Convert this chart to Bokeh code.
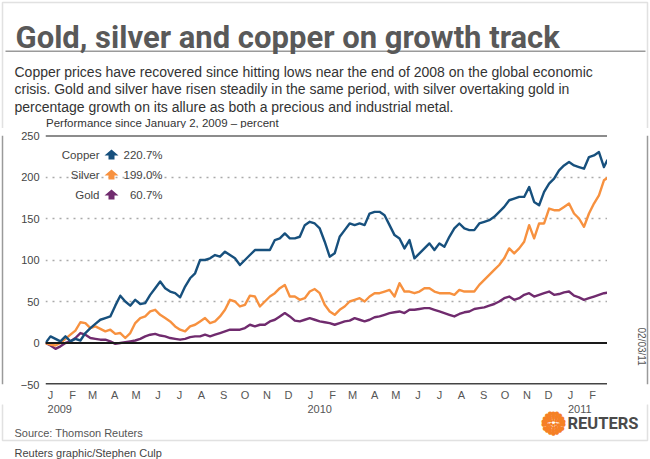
import math
import numpy as np
import pandas as pd
from bokeh.plotting import figure
from bokeh.layouts import column, row
from bokeh.models import (FixedTicker, Span, Label, LabelSet, BoxAnnotation,
                          PolyAnnotation, ColumnDataSource, Range1d)
from bokeh.core.properties import value
from bokeh.embed import file_html
from bokeh.resources import INLINE

# ---------------- data (weekly readings, percent change since Jan 2, 2009) -------------
dates = pd.date_range("2009-01-02", periods=113, freq="7D").append(pd.DatetimeIndex(["2011-03-02"]))

copper = [0, 8, 5, 2, 8, 2, 5, 3, 12, 18, 23, 28, 30, 32, 45, 57, 50, 45, 52, 47,
          48, 58, 66, 74, 66, 62, 60, 55, 68, 78, 84, 100, 100, 102, 106, 104, 110, 106, 102, 94,
          100, 106, 112, 112, 112, 112, 124, 126, 132, 126, 126, 128, 142, 146, 144, 138, 122, 104, 108, 128,
          136, 144, 142, 144, 142, 156, 158, 158, 154, 142, 130, 126, 114, 124, 102, 108, 114, 120, 112, 120,
          116, 128, 138, 144, 138, 136, 136, 144, 146, 148, 152, 158, 164, 172, 174, 176, 176, 188, 170, 166,
          182, 192, 198, 208, 214, 218, 214, 212, 210, 224, 226, 230, 212, 220.7]

silver = [0, -2, -3, 0, 5, 10, 15, 25, 24, 18, 20, 17, 14, 16, 11, 12, 6, 12, 24, 30,
          32, 38, 40, 34, 30, 26, 20, 16, 14, 20, 22, 26, 30, 24, 26, 32, 40, 52, 50, 44,
          46, 57, 56, 44, 50, 56, 60, 66, 70, 56, 56, 52, 54, 62, 65, 60, 46, 38, 34, 40,
          44, 50, 52, 54, 50, 56, 60, 60, 62, 64, 56, 72, 62, 62, 60, 62, 66, 66, 62, 60,
          60, 60, 58, 64, 62, 62, 62, 70, 76, 82, 88, 94, 102, 114, 108, 114, 122, 142, 126, 144,
          144, 162, 160, 160, 164, 168, 156, 150, 140, 156, 168, 178, 196, 199.0]

gold = [0, -3, -7, -4, 0, 2, 6, 12, 10, 6, 5, 4, 4, 2, -1, 0, 1, 2, 3, 5,
        8, 10, 11, 9, 8, 6, 5, 4, 5, 7, 8, 8, 10, 8, 10, 12, 14, 16, 16, 16,
        18, 22, 20, 22, 22, 26, 28, 32, 36, 32, 27, 26, 28, 30, 28, 26, 25, 24, 22, 24,
        26, 27, 30, 28, 26, 28, 31, 32, 34, 36, 37, 38, 36, 40, 40, 41, 42, 42, 40, 38,
        36, 34, 32, 35, 37, 38, 41, 42, 43, 45, 47, 50, 54, 56, 52, 54, 58, 60, 56, 58,
        60, 62, 58, 59, 61, 62, 57, 55, 52, 54, 56, 58, 60, 60.7]

series_names = ["Copper", "Silver", "Gold"]
series_last = ["220.7%", "199.0%", "60.7%"]
series_colors = ["#17507d", "#f7913f", "#702b6e"]

month_letters = ["J", "F", "M", "A", "M", "J", "J", "A", "S", "O", "N", "D",
                 "J", "F", "M", "A", "M", "J", "J", "A", "S", "O", "N", "D", "J", "F"]
month_starts = pd.date_range("2009-01-01", periods=26, freq="MS")
year_labels = ["2009", "2010", "2011"]
year_starts = pd.DatetimeIndex(["2009-01-01", "2010-01-01", "2011-01-01"])
y_ticks = [-50, 0, 50, 100, 150, 200, 250]
y_dotted = [50, 100, 150, 200]

origin = pd.Timestamp("2009-01-01")
x = np.asarray((dates - origin).days, dtype=float)

# ---------------- geometry (canvas px) -------------
W, H = 650, 459
FL, FR, FT, FB = 45, 607, 135, 384        # plot frame
HEAD = 128                                # header height
MAIN_B = 404                              # bottom of main figure
LSTRIP = 10
X0, X1 = 1, 790                           # days since 2009-01-01 (Jan 2, 2009 .. Mar 2, 2011)
PPD = (FR - FL) / (X1 - X0)
BORDER = "#9a9a9a"


def blank(w, h, xr, yr):
    f = figure(width=w, height=h, output_backend="svg", toolbar_location=None,
               x_range=xr, y_range=yr, x_axis_type=None, y_axis_type=None,
               min_border=0, background_fill_color="white", border_fill_color="white")
    f.outline_line_color = None
    f.grid.visible = False
    return f


def txt(f, x_, y_, text, size, color="#333333", font="Liberation Sans", align="left",
        baseline="middle", style="normal", angle=0.0, units="data"):
    f.add_layout(Label(x=x_, y=y_, x_units=units, y_units=units, text=text,
                       text_font=font, text_font_size=size, text_color=color, text_align=align,
                       text_baseline=baseline, text_font_style=style, angle=angle))


# ---------------- header -------------
head = blank(W, HEAD, Range1d(0, W), Range1d(HEAD, 0))
head.add_layout(BoxAnnotation(left=2, right=647, top=2, bottom=HEAD + 20, fill_alpha=0,
                              line_color=BORDER, line_width=1.5))
head.add_layout(BoxAnnotation(left=5, right=645, top=50, bottom=51.5, fill_color=BORDER,
                              fill_alpha=1, line_color=None))
txt(head, 15, 37, "Gold, silver and copper on growth track", "31px", "#595959", "Roboto",
    baseline="alphabetic", style="bold")
sub = ["Copper prices have recovered since hitting lows near the end of 2008 on the global economic",
       "crisis. Gold and silver have risen steadily in the same period, with silver overtaking gold in",
       "percentage growth on its allure as both a precious and industrial metal."]
for i, s in enumerate(sub):
    txt(head, 14, 71 + 17.5 * i, s, "14px", "#333333", baseline="alphabetic")
txt(head, 45.5, 122, "Performance since January 2, 2009 \u2013 percent", "11.5px", "#333333")

# ---------------- main chart -------------
MH = MAIN_B - HEAD
p = figure(width=FR - LSTRIP, height=MH, output_backend="svg", toolbar_location=None,
           x_range=Range1d(X0, X1), y_range=Range1d(-50, 250),
           min_border_left=FL - LSTRIP, min_border_right=0, min_border_top=FT - HEAD,
           min_border_bottom=MAIN_B - FB,
           background_fill_color="white", border_fill_color="white")
p.outline_line_color = None
p.title.visible = False

ya = p.yaxis[0]
ya.ticker = FixedTicker(ticks=y_ticks)
ya.axis_line_color = None
ya.major_tick_line_color = None
ya.minor_tick_line_color = None
ya.major_tick_out = 0
ya.major_tick_in = 0
ya.major_label_standoff = 6
ya.major_label_text_font = "Liberation Sans"
ya.major_label_text_font_size = "11px"
ya.major_label_text_color = "#444444"

m_ticks = [int((d - origin).days) + 8 for d in month_starts]
xa = p.xaxis[0]
xa.ticker = FixedTicker(ticks=m_ticks)
xa.major_label_overrides = {t: l for t, l in zip(m_ticks, month_letters)}
xa.axis_line_color = None
xa.major_tick_line_color = None
xa.minor_tick_line_color = None
xa.major_tick_out = 0
xa.major_tick_in = 0
xa.major_label_standoff = 4
xa.major_label_text_font = "Liberation Sans"
xa.major_label_text_font_size = "11px"
xa.major_label_text_color = "#555555"

p.xgrid.visible = False
p.ygrid.ticker = FixedTicker(ticks=y_dotted)
p.ygrid.grid_line_color = "#aaaaaa"
p.ygrid.grid_line_dash = "2 5"
p.ygrid.grid_line_width = 1.5

p.add_layout(Span(location=250, dimension="width", line_color="#1a1a1a", line_width=2))
p.add_layout(Span(location=0, dimension="width", line_color="#1a1a1a", line_width=2))
p.add_layout(Span(location=-50, dimension="width", line_color="#444444", line_width=3))

for vals, col in [(gold, series_colors[2]), (silver, series_colors[1]), (copper, series_colors[0])]:
    p.line(x, vals, line_color=col, line_width=2.4, line_join="round")

# legend (screen units, relative to the plot frame)
for i, (nm, lv, col) in enumerate(zip(series_names, series_last, series_colors)):
    cy = 154.5 + 20 * i
    txt(p, 99 - FL, FB - cy, nm, "11.5px", "#444444", align="right", units="screen")
    txt(p, 162 - FL, FB - cy, lv, "11.5px", "#444444", align="right", units="screen")
    cx = 111
    pts = [(-7, 0.5), (0, -5.5), (7, 0.5), (3, 0.5), (3, 4.5), (-3, 4.5), (-3, 0.5)]
    p.add_layout(PolyAnnotation(xs=[cx + a - FL for a, b in pts], ys=[FB - (cy + b) for a, b in pts],
                                xs_units="screen", ys_units="screen", fill_color=col, fill_alpha=1,
                                line_color=None))

# side strips carrying the box border and the date stamp
left = blank(LSTRIP, MH, Range1d(0, LSTRIP), Range1d(MAIN_B, HEAD))
left.add_layout(Span(location=2, dimension="height", line_color=BORDER, line_width=1.5))
right = blank(W - FR, MH, Range1d(FR, W), Range1d(MAIN_B, HEAD))
right.add_layout(Span(location=647, dimension="height", line_color=BORDER, line_width=1.5))
txt(right, 641, 362, "02/03/11", "10px", "#555555", align="center", angle=-math.pi / 2)

# ---------------- footer -------------
FH = H - MAIN_B
foot = blank(W, FH, Range1d(X0 - FL / PPD, X0 + (W - FL) / PPD), Range1d(H, MAIN_B))
for d, lab in zip(year_starts, year_labels):
    txt(foot, (d - origin).days + 21, 408, lab, "11px", "#555555", align="center")
foot.add_layout(BoxAnnotation(left=2, right=647, top=MAIN_B - 20, bottom=440, left_units="screen",
                              right_units="screen", top_units="data", bottom_units="data",
                              fill_alpha=0, line_color=BORDER, line_width=1.5))
txt(foot, 14, H - 432, "Source: Thomson Reuters", "11px", "#555555", units="screen")
txt(foot, 14, H - 452, "Reuters graphic/Stephen Culp", "11px", "#444444", units="screen")

lx, ly = 553, 422
dx, dy, sz = [], [], []
for r, n, s in [(2.6, 6, 3.5), (5.0, 10, 4.2), (7.5, 14, 5.0), (10.0, 18, 5.6)]:
    for k in range(n):
        a = 2 * math.pi * (k + 0.5 * (n % 4 == 2)) / n
        dx.append(lx + r * math.cos(a))
        dy.append(H - (ly + r * math.sin(a)))
        sz.append(f"{s}px")
src = ColumnDataSource(dict(x=dx, y=dy, t=["\u25cf"] * len(dx), s=sz))
foot.add_layout(LabelSet(x="x", y="y", text="t", source=src, x_units="screen", y_units="screen",
                         text_font=value("DejaVu Sans"), text_font_size="s", text_color="#f58025",
                         text_align="center", text_baseline="middle"))
txt(foot, 567, H - 423, "REUTERS", "16.5px", "#4a4a4a", "Roboto", style="bold", units="screen")

layout = column(head, row(left, p, right, spacing=0), foot, spacing=0)
open("out.html", "w").write(file_html(layout, INLINE))
